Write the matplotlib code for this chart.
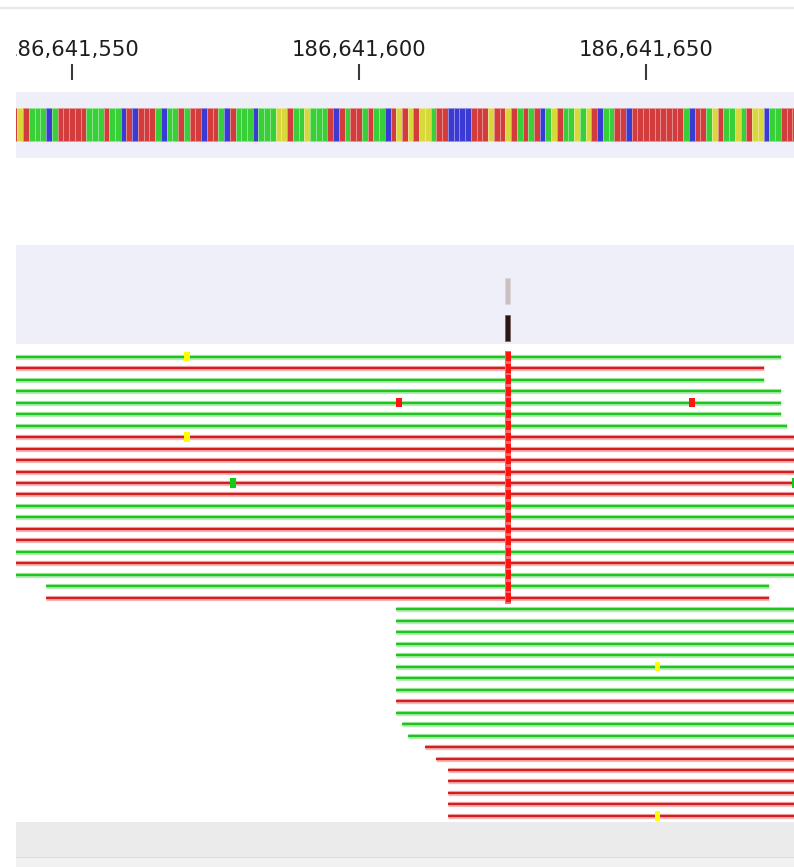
import matplotlib
matplotlib.use("Agg")
import matplotlib.pyplot as plt
from matplotlib.patches import Rectangle
from matplotlib.lines import Line2D
from matplotlib.colors import to_rgb

# ---------------------------------------------------------------- data ----
# visible window (chr coordinates)
VIEW_START = 186641540.25
VIEW_END = 186641675.8

ruler_ticks = [186641550, 186641600, 186641650]

# reference sequence starting at ref_start
ref_start = 186641540
ref_seq = ("TGTAAACATT" "TTTAAATAAC" "TCTTTACAAT" "ATTCTTACTA"
           "AACAAAGGTA" "AGAAATCTAT" "TATAACTGTG" "TGGATTCCCC"
           "TTTGTTGTAT" "ATCAGTAAGA" "GTCAATTCTT" "TTTTTTTACT"
           "TAGTAAGATG" "GCAATTT")

# packed alignment rows: strand group (F = green, R = red), start, end
read_strand = ["F", "R", "F", "F", "F", "F", "F", "R", "R", "R",
               "R", "R", "R", "F", "F", "R", "R", "F", "R", "F",
               "F", "R", "F", "F", "F", "F", "F", "F", "F", "F",
               "R", "F", "F", "F", "R", "R", "R", "R", "R", "R",
               "R"]
read_start = [186641527, 186641531, 186641529, 186641533, 186641526,
              186641530, 186641528, 186641532, 186641527, 186641534,
              186641529, 186641531, 186641526, 186641533, 186641530,
              186641528, 186641532, 186641527, 186641535, 186641531,
              186641546, 186641546, 186641607, 186641607, 186641607,
              186641607, 186641607, 186641607, 186641607, 186641607,
              186641607, 186641607, 186641608, 186641609, 186641612,
              186641614, 186641616, 186641616, 186641616, 186641616,
              186641616]
read_end = [186641673, 186641670, 186641670, 186641673, 186641673,
            186641673, 186641674, 186641681, 186641684, 186641679,
            186641686, 186641682, 186641688, 186641680, 186641683,
            186641687, 186641681, 186641685, 186641689, 186641682,
            186641671, 186641671, 186641706, 186641705, 186641706,
            186641707, 186641706, 186641705, 186641706, 186641706,
            186641706, 186641706, 186641707, 186641708, 186641711,
            186641713, 186641715, 186641715, 186641715, 186641715,
            186641715]

# mismatching bases: (row, position, base)
mismatches = [(0, 186641570, "G"), (4, 186641607, "T"), (4, 186641658, "T"),
              (7, 186641570, "G"), (11, 186641578, "A"), (11, 186641676, "A"),
              (27, 186641652, "G"), (40, 186641652, "G")]
snv_pos = 186641626
snv_base = "T"
snv_rows = list(range(22))

# marks in the track above the reads at the SNV site: (colour, bottom, height)
site_marks = [("#c9c1c1", 40, 26), ("#2c1515", 3, 26)]

# --------------------------------------------------------------- style ----
W, H, DPI = 794, 867, 100
LAVENDER = "#efeffa"
base_colors = {"A": "#38cf38", "C": "#3b3bd4", "G": "#d8d83c", "T": "#d23c3c"}
mismatch_colors = {"A": "#12cc12", "C": "#1414ff", "G": "#ffff00", "T": "#ff1414"}
strand_core = {"F": "#1fc41f", "R": "#d21e1e"}
strand_halo = {"F": "#b6ecb6", "R": "#f2b8b8"}


def lighten(c, f):
    r, g, b = to_rgb(c)
    return (r + (1 - r) * f, g + (1 - g) * f, b + (1 - b) * f)


fig = plt.figure(figsize=(W / DPI, H / DPI), dpi=DPI)
fig.patch.set_facecolor("white")


def panel(top, bottom, face="white", left=16, right=794):
    ax = fig.add_axes([left / W, 1 - bottom / H, (right - left) / W, (bottom - top) / H])
    ax.set_facecolor(face)
    ax.set_xticks([])
    ax.set_yticks([])
    for s in ax.spines.values():
        s.set_visible(False)
    ax.set_xlim(VIEW_START, VIEW_END)
    return ax


# thin separator at the very top
fig.add_artist(Line2D([0, 1], [1 - 7.5 / H] * 2, color="#e6e6e6", lw=1.6))

# ---- ruler
ax_r = panel(20, 92)
ax_r.set_ylim(92, 20)
ax_r.vlines(ruler_ticks, 64, 80, color="#3a3a3a", lw=1.5)
for t in ruler_ticks:
    ax_r.text(t, 49.5, f"{t:,}", ha="center", va="center", fontsize=15.2,
              color="#1e1e1e", clip_on=True, family="DejaVu Sans")

# ---- reference sequence
ax_s = panel(92, 158, LAVENDER)
ax_s.set_ylim(0, 1)
pos = [ref_start + i for i in range(len(ref_seq))]
cols = [base_colors[b] for b in ref_seq]
ax_s.bar(pos, 0.5, bottom=0.258, width=1.0, color=cols,
         edgecolor=[lighten(c, 0.45) for c in cols], linewidth=0.6)

# ---- site track
ax_c = panel(245, 344, LAVENDER)
ax_c.set_ylim(0, 99)
for col, b, h in site_marks:
    ax_c.bar(snv_pos - 0.12, h, bottom=b, width=0.8, color=col,
             edgecolor=lighten(col, 0.3), linewidth=0.5)

# ---- alignments
ax_a = panel(345, 822)
ax_a.set_ylim(40.53, -1.02)
for row, (st, s, e) in enumerate(zip(read_strand, read_start, read_end)):
    ax_a.hlines(row, s - 0.5, e + 0.5, color=strand_halo[st], lw=3.8, zorder=1)
    ax_a.hlines(row, s - 0.5, e + 0.5, color=strand_core[st], lw=1.7, zorder=2)

for row in snv_rows:
    ax_a.add_patch(Rectangle((snv_pos - 0.5, row - 0.5), 1.0, 1.0,
                             color=lighten(mismatch_colors[snv_base], 0.35), lw=0, zorder=3))
    ax_a.add_patch(Rectangle((snv_pos - 0.45, row - 0.38), 0.9, 0.76,
                             color=mismatch_colors[snv_base], lw=0, zorder=4))
for row, p, b in mismatches:
    ax_a.add_patch(Rectangle((p - 0.5, row - 0.4), 1.0, 0.8,
                             color=mismatch_colors[b], lw=0, zorder=4))

# ---- footer band
ax_f = panel(822, 857, "#ebebeb")
ax_g = panel(857, 867, "#f1f1f1")
fig.add_artist(Line2D([16 / W, 1], [1 - 857 / H] * 2, color="#dedede", lw=0.8))

fig.savefig("out.png", dpi=DPI, facecolor="white")
